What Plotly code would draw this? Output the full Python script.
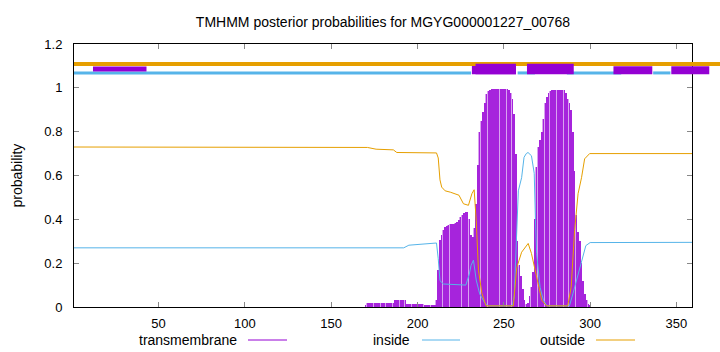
import plotly.graph_objects as go

# ---------------- data ----------------
TITLE = "TMHMM posterior probabilities for MGYG000001227_00768"
X_RANGE = [1, 359]
Y_RANGE = [0, 1.2]
X_TICKS = [50, 100, 150, 200, 250, 300, 350]
Y_TICKS = [0, 0.2, 0.4, 0.6, 0.8, 1, 1.2]
Y_TICK_TEXT = ["0", "0.2", "0.4", "0.6", "0.8", "1", "1.2"]

# transmembrane posterior per residue (residues 170..300; ~0 elsewhere)
tm_pos = list(range(170, 301))
tm_val = (
    [0.005]
    + [0.017] * 16          # 171-186
    + [0.03] * 7            # 187-193
    + [0.015] * 10          # 194-203
    + [0.01] * 7            # 204-210
    + [0.03, 0.17, 0.305, 0.33, 0.35, 0.365, 0.37, 0.375, 0.378, 0.38,   # 211-220
       0.38, 0.382, 0.39, 0.395, 0.41, 0.42, 0.428, 0.433, 0.435, 0.40,  # 221-230
       0.33, 0.32, 0.36, 0.47, 0.65, 0.80, 0.85, 0.89, 0.93, 0.97,      # 231-240
       0.985, 0.99]                                                     # 241-242
    + [0.995] * 10          # 243-252
    + [0.99, 0.975, 0.95, 0.88, 0.70, 0.30, 0.19, 0.14,                 # 253-260
       0.08, 0.03, 0.015, 0.02, 0.05, 0.09, 0.16, 0.40, 0.64, 0.73,     # 261-270
       0.76, 0.80, 0.86, 0.93, 0.96, 0.975, 0.985]                      # 271-277
    + [0.99] * 8            # 278-285
    + [0.975, 0.95, 0.93, 0.90, 0.80, 0.62, 0.42, 0.34, 0.30, 0.20,     # 286-295
       0.12, 0.06, 0.03, 0.012, 0.005]                                  # 296-300
)

# inside posterior (read at breakpoints)
in_pos = [1, 192, 195, 205, 211, 212, 213, 215, 222, 228, 230, 231, 232.4, 234,
          236, 239, 241, 255, 256, 257, 258.4, 260.3, 261.7, 263, 264, 266,
          267.6, 268.3, 269, 271, 273, 275, 288, 290, 293, 296, 297.5, 300, 359]
in_val = [0.27, 0.27, 0.282, 0.288, 0.292, 0.22, 0.12, 0.105, 0.103, 0.10, 0.15,
          0.19, 0.214, 0.123, 0.06, 0.018, 0.005, 0.005, 0.05, 0.274, 0.53, 0.59,
          0.683, 0.70, 0.705, 0.69, 0.61, 0.40, 0.244, 0.09, 0.03, 0.005, 0.005,
          0.06, 0.153, 0.244, 0.28, 0.294, 0.295]

# outside posterior (read at breakpoints)
out_pos = [1, 165, 171, 176, 186, 188, 211, 212, 213, 214, 216, 219, 224, 226.6,
           229.5, 231.5, 232.8, 234, 235.3, 237.3, 239.7, 255.5, 256.5, 257.5,
           260.3, 264.1, 266, 268, 270, 272, 274.8, 287, 289, 291, 293, 295,
           296.8, 299.7, 359]
out_val = [0.73, 0.73, 0.728, 0.72, 0.717, 0.705, 0.703, 0.68, 0.58, 0.547, 0.53,
           0.524, 0.51, 0.471, 0.464, 0.517, 0.535, 0.395, 0.168, 0.062, 0.005,
           0.005, 0.08, 0.18, 0.25, 0.29, 0.244, 0.168, 0.09, 0.03, 0.005, 0.005,
           0.09, 0.35, 0.517, 0.59, 0.676, 0.70, 0.70]

# topology bars above the plot (residue start, end)
outside_bar = [(1, 380)]
inside_bars = [(1, 231), (258, 268), (286.5, 318), (336.5, 346.5)]
tm_small_boxes = [(12, 43, 1.074, 1.097)]
tm_boxes = [(231.5, 257, 1.062, 1.100), (233.6, 257, 1.062, 1.110),
            (263.4, 290.5, 1.062, 1.110), (313.5, 336, 1.062, 1.099),
            (347, 369, 1.062, 1.099)]
Y_OUTSIDE_BAR = 1.109
Y_INSIDE_BAR = 1.068

C_TM = "#9400D3"
C_TM_DARK = "#A624DC"
C_TM_LIGHT = "#D9A2F0"
C_IN = "#56B4E9"
C_OUT = "#E69F00"

legend_items = [("transmembrane", C_TM), ("inside", C_IN), ("outside", C_OUT)]

# ---------------- figure ----------------
W, H = 720, 352
ML, MR, MT, MB = 74, 28, 44, 45

fig = go.Figure()
fig.add_trace(go.Bar(x=tm_pos, y=tm_val, width=0.8, marker=dict(color=C_TM_LIGHT, line=dict(width=0)),
                     showlegend=False, hoverinfo="skip"))
fig.add_trace(go.Bar(x=tm_pos, y=tm_val, width=0.3, marker=dict(color=C_TM_DARK, line=dict(width=0)),
                     showlegend=False, hoverinfo="skip"))
fig.add_trace(go.Scatter(x=in_pos, y=in_val, mode="lines", line=dict(color=C_IN, width=1),
                         showlegend=False))
fig.add_trace(go.Scatter(x=out_pos, y=out_val, mode="lines", line=dict(color=C_OUT, width=1),
                         showlegend=False))


def px(v):
    return (v - X_RANGE[0]) / (X_RANGE[1] - X_RANGE[0])


def py(v):
    return (v - Y_RANGE[0]) / (Y_RANGE[1] - Y_RANGE[0])


shapes = []
for a, b in outside_bar:
    shapes.append(dict(type="line", xref="paper", yref="paper", x0=px(a), x1=px(b),
                       y0=py(Y_OUTSIDE_BAR), y1=py(Y_OUTSIDE_BAR),
                       line=dict(color=C_OUT, width=4)))
for a, b in inside_bars:
    shapes.append(dict(type="line", xref="paper", yref="paper", x0=px(a), x1=px(b),
                       y0=py(Y_INSIDE_BAR), y1=py(Y_INSIDE_BAR),
                       line=dict(color=C_IN, width=3)))
for a, b, y0, y1 in tm_small_boxes + tm_boxes:
    shapes.append(dict(type="rect", xref="paper", yref="paper", x0=px(a), x1=px(b),
                       y0=py(y0), y1=py(y1), fillcolor=C_TM, line=dict(width=0)))

# legend (gnuplot style: text then line sample)
plot_w = W - ML - MR
plot_h = H - MT - MB
leg_text_right = [239, 412, 587]
leg_line = [(248, 287), (422, 460), (596, 635)]
leg_y = (H - MB - 340) / plot_h
annotations = []
for (name, col), tr, (l0, l1) in zip(legend_items, leg_text_right, leg_line):
    annotations.append(dict(text=name, xref="paper", yref="paper", x=(tr - ML) / plot_w, y=leg_y,
                            xanchor="right", yanchor="middle", showarrow=False,
                            font=dict(size=14, color="black")))
    shapes.append(dict(type="line", xref="paper", yref="paper", x0=(l0 - ML) / plot_w,
                       x1=(l1 - ML) / plot_w, y0=leg_y, y1=leg_y, line=dict(color=col, width=1)))

annotations.append(dict(text="probability", xref="paper", yref="paper",
                        x=(16 - ML) / plot_w, y=0.5, textangle=-90, showarrow=False,
                        xanchor="center", yanchor="middle", font=dict(size=14, color="black")))

fig.update_layout(
    width=W, height=H,
    margin=dict(l=ML, r=MR, t=MT, b=MB, pad=0),
    paper_bgcolor="white", plot_bgcolor="white",
    font=dict(family="Liberation Sans, Arial, sans-serif", size=13, color="black"),
    title=dict(text=TITLE, x=(ML + plot_w / 2) / W, xanchor="center", y=1 - 22 / H,
               yanchor="middle", font=dict(size=14)),
    barmode="overlay", bargap=0, showlegend=False,
    shapes=shapes, annotations=annotations,
    xaxis=dict(range=X_RANGE, tickvals=X_TICKS, ticks="inside", ticklen=5, tickcolor="#888",
               showline=True, linecolor="black", linewidth=1, mirror="allticks",
               showgrid=False, zeroline=False, tickfont=dict(size=13), ticklabelstandoff=4),
    yaxis=dict(range=Y_RANGE, tickvals=Y_TICKS, ticktext=Y_TICK_TEXT, ticks="inside", ticklen=5,
               tickcolor="#888", showline=True, linecolor="black", linewidth=1, mirror="allticks",
               showgrid=False, zeroline=False, tickfont=dict(size=13), ticklabelstandoff=8),
)

fig.write_html("out.html")
